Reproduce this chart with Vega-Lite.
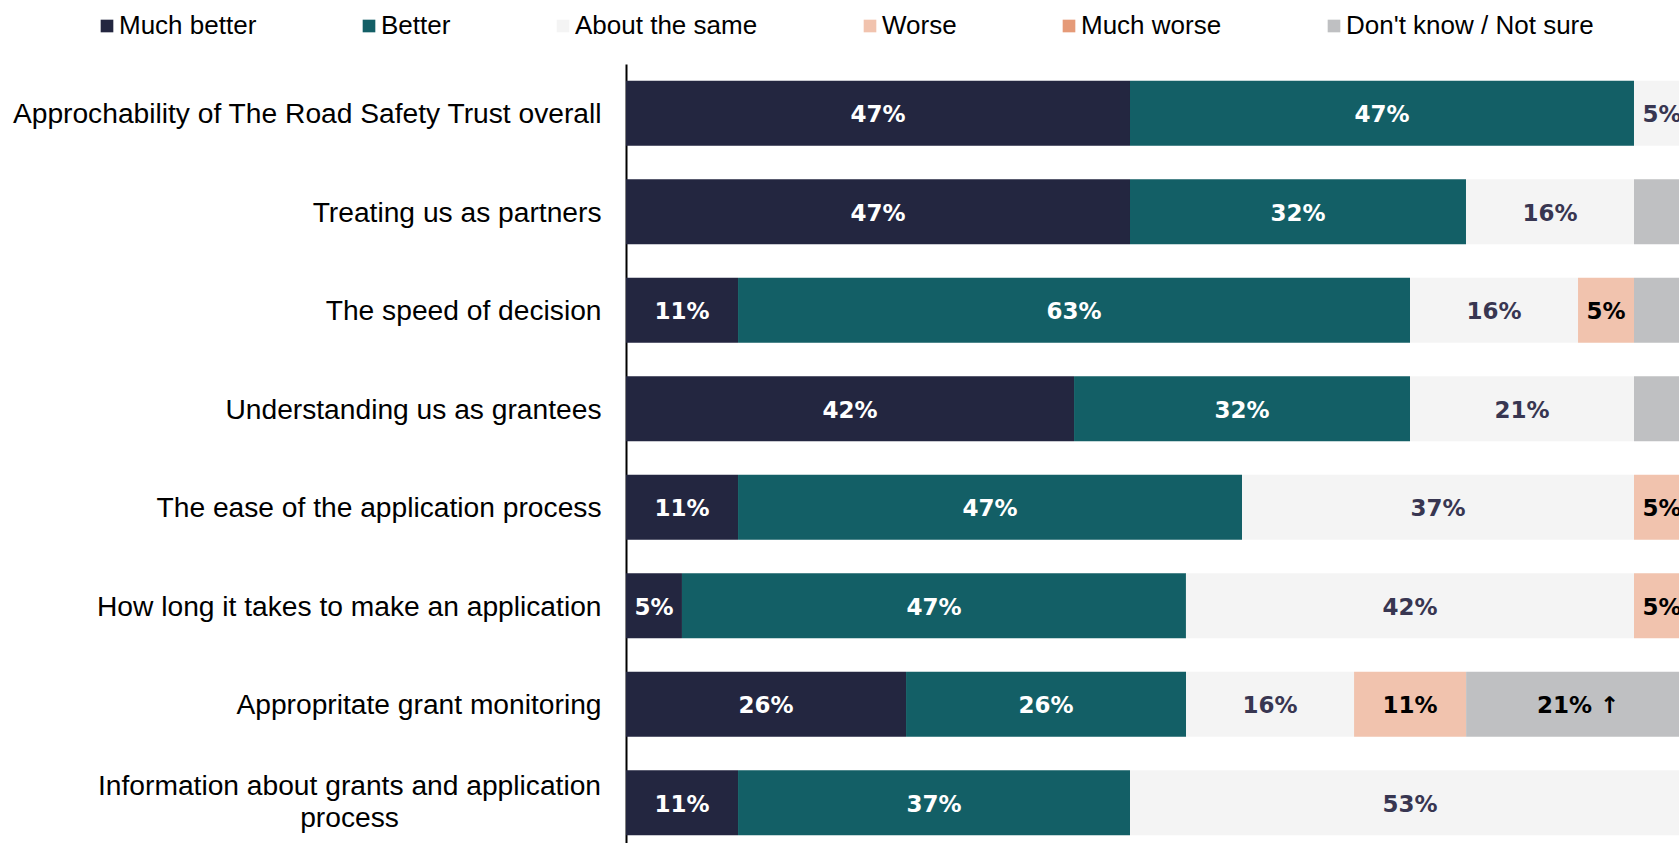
{
  "$schema": "https://vega.github.io/schema/vega-lite/v6.json",
  "width": 1053,
  "height": 779,
  "autosize": {"type": "none"},
  "padding": {"left": 626, "top": 64, "right": 0, "bottom": 0},
  "background": "white",
  "config": {"view": {"stroke": null}},
  "data": {
    "values": [
      {"item": "Approchability of The Road Safety Trust overall", "response": "Much better", "code": 1, "pct": 47.37, "label": "47%"},
      {"item": "Approchability of The Road Safety Trust overall", "response": "Better", "code": 2, "pct": 47.37, "label": "47%"},
      {"item": "Approchability of The Road Safety Trust overall", "response": "About the same", "code": 3, "pct": 5.26, "label": "5%"},
      {"item": "Treating us as partners", "response": "Much better", "code": 1, "pct": 47.37, "label": "47%"},
      {"item": "Treating us as partners", "response": "Better", "code": 2, "pct": 31.58, "label": "32%"},
      {"item": "Treating us as partners", "response": "About the same", "code": 3, "pct": 15.79, "label": "16%"},
      {"item": "Treating us as partners", "response": "Don't know / Not sure", "code": 6, "pct": 5.26, "label": ""},
      {"item": "The speed of decision", "response": "Much better", "code": 1, "pct": 10.53, "label": "11%"},
      {"item": "The speed of decision", "response": "Better", "code": 2, "pct": 63.16, "label": "63%"},
      {"item": "The speed of decision", "response": "About the same", "code": 3, "pct": 15.79, "label": "16%"},
      {"item": "The speed of decision", "response": "Worse", "code": 4, "pct": 5.26, "label": "5%"},
      {"item": "The speed of decision", "response": "Don't know / Not sure", "code": 6, "pct": 5.26, "label": ""},
      {"item": "Understanding us as grantees", "response": "Much better", "code": 1, "pct": 42.11, "label": "42%"},
      {"item": "Understanding us as grantees", "response": "Better", "code": 2, "pct": 31.58, "label": "32%"},
      {"item": "Understanding us as grantees", "response": "About the same", "code": 3, "pct": 21.05, "label": "21%"},
      {"item": "Understanding us as grantees", "response": "Don't know / Not sure", "code": 6, "pct": 5.26, "label": ""},
      {"item": "The ease of the application process", "response": "Much better", "code": 1, "pct": 10.53, "label": "11%"},
      {"item": "The ease of the application process", "response": "Better", "code": 2, "pct": 47.37, "label": "47%"},
      {"item": "The ease of the application process", "response": "About the same", "code": 3, "pct": 36.84, "label": "37%"},
      {"item": "The ease of the application process", "response": "Worse", "code": 4, "pct": 5.26, "label": "5%"},
      {"item": "How long it takes to make an application", "response": "Much better", "code": 1, "pct": 5.26, "label": "5%"},
      {"item": "How long it takes to make an application", "response": "Better", "code": 2, "pct": 47.37, "label": "47%"},
      {"item": "How long it takes to make an application", "response": "About the same", "code": 3, "pct": 42.11, "label": "42%"},
      {"item": "How long it takes to make an application", "response": "Worse", "code": 4, "pct": 5.26, "label": "5%"},
      {"item": "Appropritate grant monitoring", "response": "Much better", "code": 1, "pct": 26.32, "label": "26%"},
      {"item": "Appropritate grant monitoring", "response": "Better", "code": 2, "pct": 26.32, "label": "26%"},
      {"item": "Appropritate grant monitoring", "response": "About the same", "code": 3, "pct": 15.79, "label": "16%"},
      {"item": "Appropritate grant monitoring", "response": "Worse", "code": 4, "pct": 10.53, "label": "11%"},
      {"item": "Appropritate grant monitoring", "response": "Don't know / Not sure", "code": 6, "pct": 21.05, "label": "21% ↑"},
      {"item": "Information about grants and application process", "response": "Much better", "code": 1, "pct": 10.53, "label": "11%"},
      {"item": "Information about grants and application process", "response": "Better", "code": 2, "pct": 36.84, "label": "37%"},
      {"item": "Information about grants and application process", "response": "About the same", "code": 3, "pct": 52.63, "label": "53%"}
    ]
  },
  "encoding": {
    "y": {
      "field": "item",
      "type": "nominal",
      "sort": [
        "Approchability of The Road Safety Trust overall",
        "Treating us as partners",
        "The speed of decision",
        "Understanding us as grantees",
        "The ease of the application process",
        "How long it takes to make an application",
        "Appropritate grant monitoring",
        "Information about grants and application process"
      ],
      "scale": {"paddingInner": 0.34, "paddingOuter": 0.1244, "align": 0.682},
      "axis": {
        "title": null,
        "ticks": false,
        "grid": false,
        "domainColor": "black",
        "domainWidth": 2,
        "labelFont": "Liberation Sans",
        "labelFontSize": 28.2,
        "labelColor": "black",
        "labelLimit": 0,
        "labelLineHeight": 32,
        "labelPadding": {"condition": {"test": "indexof(datum.value, 'Information') == 0", "value": 277}, "value": 25},
        "labelAlign": {"condition": {"test": "indexof(datum.value, 'Information') == 0", "value": "center"}, "value": "right"},
        "labelOffset": {"condition": {"test": "indexof(datum.value, 'Information') == 0", "value": -16}, "value": 2},
        "labelExpr": "datum.label == 'Information about grants and application process' ? ['Information about grants and application', 'process'] : datum.label"
      }
    },
    "order": {"field": "code", "type": "quantitative"}
  },
  "layer": [
    {
      "mark": {"type": "bar", "clip": true},
      "encoding": {
        "x": {"field": "pct", "type": "quantitative", "stack": "zero", "scale": {"domain": [0, 98.97], "nice": false}, "axis": null},
        "color": {
          "field": "response",
          "type": "nominal",
          "scale": {
            "domain": ["Much better", "Better", "About the same", "Worse", "Much worse", "Don't know / Not sure"],
            "range": ["#232640", "#135F66", "#F4F4F4", "#F1C3AE", "#E59A78", "#BFC0C2"]
          },
          "legend": {
            "orient": "none",
            "legendX": -532,
            "legendY": -51,
            "direction": "horizontal",
            "columns": 6,
            "title": null,
            "symbolType": "square",
            "symbolSize": 160,
            "symbolStrokeWidth": 0,
            "symbolOpacity": 1,
            "labelFont": "Liberation Sans",
            "labelFontSize": 26,
            "labelColor": "black",
            "labelOffset": -1,
            "labelLimit": 600,
            "columnPadding": 99,
            "padding": 0,
            "gridAlign": "each"
          }
        }
      }
    },
    {
      "mark": {"type": "text", "clip": true, "font": "DejaVu Sans", "fontWeight": "bold", "fontSize": 23, "align": "center", "baseline": "middle", "dy": 2},
      "encoding": {
        "x": {"field": "pct", "type": "quantitative", "stack": "zero", "bandPosition": 0.5, "scale": {"domain": [0, 98.97], "nice": false}, "axis": null},
        "detail": {"field": "response", "type": "nominal"},
        "text": {"field": "label", "type": "nominal"},
        "color": {
          "condition": [
            {"test": "datum.response == 'Much better' || datum.response == 'Better'", "value": "#FFFFFF"},
            {"test": "datum.response == 'About the same'", "value": "#383651"}
          ],
          "value": "#000000"
        }
      }
    }
  ]
}
